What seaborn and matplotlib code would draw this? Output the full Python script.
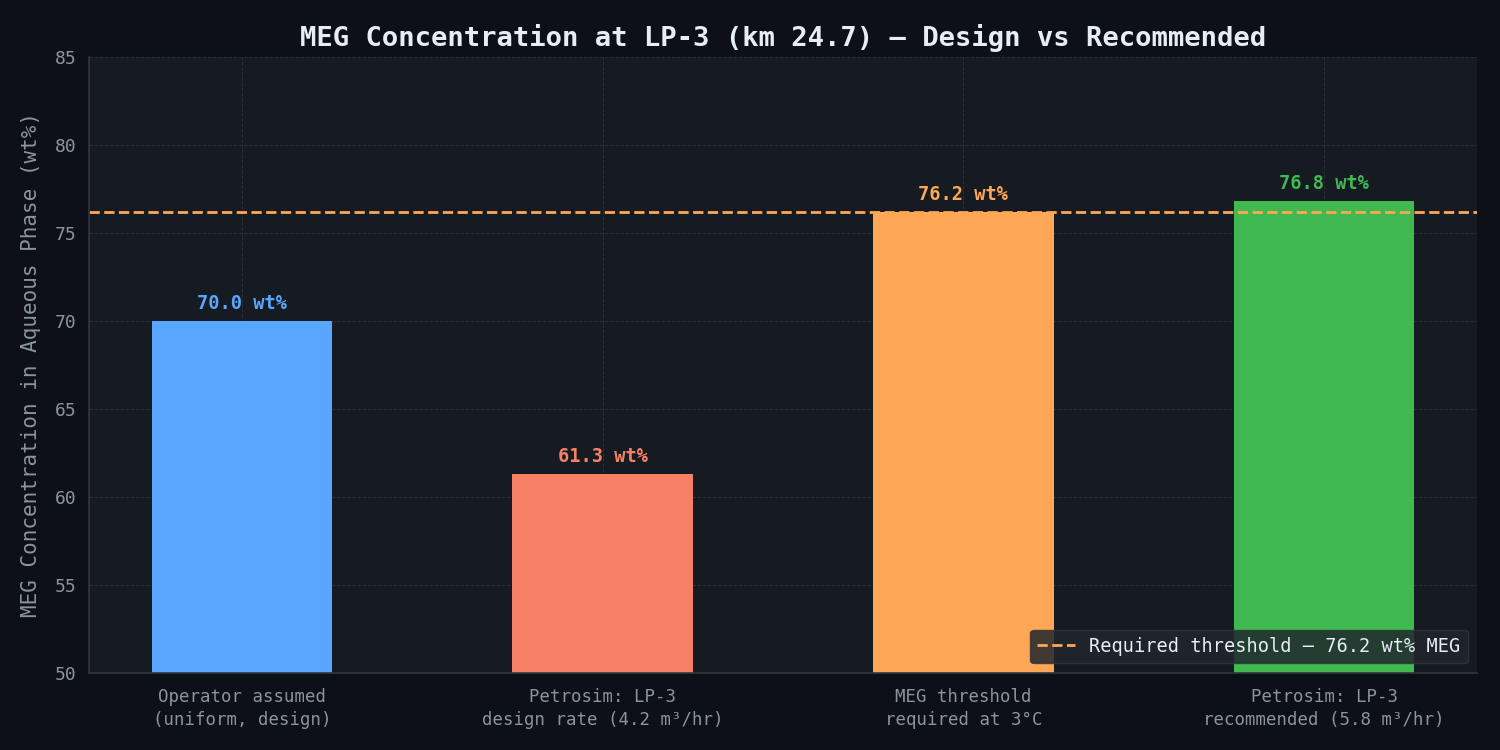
import matplotlib
matplotlib.use("Agg")
import matplotlib.pyplot as plt
import pandas as pd
import seaborn as sns

categories = [
    "Operator assumed\n(uniform, design)",
    "Petrosim: LP-3\ndesign rate (4.2 m³/hr)",
    "MEG threshold\nrequired at 3°C",
    "Petrosim: LP-3\nrecommended (5.8 m³/hr)",
]
meg_wt = [70.0, 61.3, 76.2, 76.8]
bar_colors = ["#58a6ff", "#f78166", "#ffa657", "#3fb950"]
threshold = 76.2

BG = "#0d1117"
PANEL = "#161b22"
GRID = "#30363d"
MUTED = "#8b949e"
TEXT = "#e6edf3"

sns.set_theme(style="dark")
plt.rcParams["font.family"] = ["DejaVu Sans Mono", "DejaVu Sans"]

df = pd.DataFrame({"case": categories, "meg": meg_wt})

fig, ax = plt.subplots(figsize=(15, 7.5), dpi=100)
fig.patch.set_facecolor(BG)
ax.set_facecolor(PANEL)

sns.barplot(data=df, x="case", y="meg", hue="case", palette=bar_colors,
            width=0.5, legend=False, ax=ax, saturation=1, linewidth=0)

ax.axhline(threshold, color="#ffa657", linestyle="--", linewidth=2,
           label=f"Required threshold — {threshold} wt% MEG")

for i, (v, c) in enumerate(zip(meg_wt, bar_colors)):
    ax.text(i, v + 0.45, f"{v:.1f} wt%", ha="center", va="bottom",
            color=c, fontsize=13.4, fontweight="bold")

ax.set_xlim(-0.425, len(categories) - 1 + 0.425)
ax.set_ylim(50, 85)
ax.set_title("MEG Concentration at LP-3 (km 24.7) — Design vs Recommended",
             color=TEXT, fontsize=19.6, fontweight="bold", pad=8)
ax.set_xlabel("")
ax.set_ylabel("MEG Concentration in Aqueous Phase (wt%)", color=MUTED,
              fontsize=15, labelpad=10)
ax.tick_params(axis="both", colors=MUTED, labelsize=13, length=5)
ax.tick_params(axis="x", labelsize=12.5, pad=6)
for lab in ax.get_xticklabels():
    lab.set_linespacing(1.35)
ax.grid(True, color=GRID, linestyle="--", linewidth=0.7, alpha=0.8)
ax.set_axisbelow(True)
for side in ["top", "right"]:
    ax.spines[side].set_visible(False)
for side in ["left", "bottom"]:
    ax.spines[side].set_visible(True)
    ax.spines[side].set_color(GRID)
    ax.spines[side].set_linewidth(1.2)

leg = ax.legend(loc="lower right", facecolor="#21262d", edgecolor=GRID,
                fontsize=13.4, framealpha=0.85)
for t in leg.get_texts():
    t.set_color(TEXT)

fig.subplots_adjust(left=0.059, right=0.985, top=0.924, bottom=0.103)
fig.savefig("out.png", dpi=100, facecolor=BG)
